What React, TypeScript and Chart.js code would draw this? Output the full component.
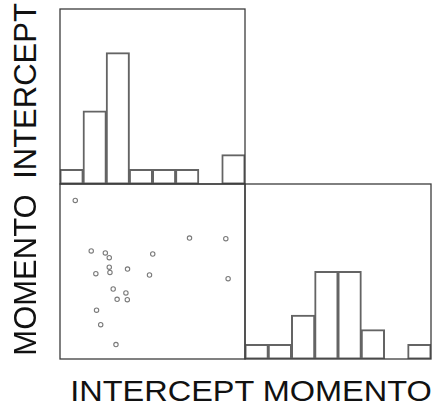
import React, { useEffect, useRef } from "react";
import { Chart, registerables } from "chart.js";

Chart.register(...registerables);

// ---- data ----
const varNames = ["INTERCEPT", "MOMENTO"];
const binLabels = ["b1", "b2", "b3", "b4", "b5", "b6", "b7", "b8"];
const interceptCounts = [1, 5, 9, 1, 1, 1, 0, 2];
const momentoCounts = [1, 1, 3, 6, 6, 2, 0, 1];
const interceptValues = [0.66, 5.6, 7.17, 1.35, 1.96, 2.13, 4.01, 2.13, 2.16, 2.92, 1.55, 3.87, 7.27, 2.3, 2.85, 2.47, 2.91, 1.58, 1.76, 2.42];
const momentoValues = [7.25, 5.53, 5.5, 4.94, 4.85, 4.63, 4.8, 4.2, 3.96, 4.11, 3.9, 3.84, 3.67, 3.2, 3.02, 2.73, 2.71, 2.23, 1.57, 0.66];
const axisRange = [0, 8];
const countRange = [0, 12];

const FRAME = "#3c3c3c";
const BAR_LINE = "#646464";
const POINT = "#7a7a7a";
const FONT = "'Liberation Sans', Arial, Helvetica, sans-serif";

const framePlugin = {
  id: "frame",
  afterDraw(chart: any) {
    const { ctx, chartArea: a } = chart;
    ctx.save();
    ctx.strokeStyle = FRAME;
    ctx.lineWidth = 1.3;
    ctx.strokeRect(a.left, a.top, a.right - a.left, a.bottom - a.top);
    ctx.restore();
  },
};

const PAD = 3;

function Panel({ left, top, width, height, makeConfig }: any) {
  const ref = useRef<HTMLCanvasElement | null>(null);
  useEffect(() => {
    if (!ref.current) return;
    const chart = new Chart(ref.current, makeConfig());
    return () => chart.destroy();
  }, []);
  return (
    <div
      style={{
        position: "absolute",
        left: left - PAD,
        top: top - PAD,
        width: width + 2 * PAD,
        height: height + 2 * PAD,
      }}
    >
      <canvas ref={ref} />
    </div>
  );
}

const baseOptions = {
  animation: false as const,
  responsive: true,
  maintainAspectRatio: false,
  layout: { padding: PAD, autoPadding: false },
  plugins: { legend: { display: false }, tooltip: { enabled: false } },
  events: [] as any[],
};

function histConfig(counts: number[]) {
  return {
    type: "bar" as const,
    data: {
      labels: binLabels,
      datasets: [
        {
          data: counts,
          backgroundColor: "rgba(255,255,255,0)",
          borderColor: BAR_LINE,
          borderWidth: 1,
          borderSkipped: false,
          inflateAmount: 0.5,
          barPercentage: 1,
          categoryPercentage: 1,
        },
      ],
    },
    options: {
      ...baseOptions,
      scales: {
        x: { display: false },
        y: { display: false, min: countRange[0], max: countRange[1] },
      },
    },
    plugins: [framePlugin],
  };
}

function scatterConfig() {
  return {
    type: "scatter" as const,
    data: {
      datasets: [
        {
          data: interceptValues.map((x, i) => ({ x, y: momentoValues[i] })),
          pointStyle: "circle",
          pointRadius: 2.2,
          borderColor: POINT,
          backgroundColor: "rgba(255,255,255,0)",
          borderWidth: 1.1,
        },
      ],
    },
    options: {
      ...baseOptions,
      scales: {
        x: { type: "linear" as const, display: false, min: axisRange[0], max: axisRange[1] },
        y: { type: "linear" as const, display: false, min: axisRange[0], max: axisRange[1] },
      },
    },
    plugins: [framePlugin],
  };
}

export default function App() {
  const colL = 60, colM = 245, colR = 431;
  const rowT = 9, rowM = 184, rowB = 359;
  const vLabel = (text: string, cx: number, cy: number) => (
    <div
      style={{
        position: "absolute",
        left: cx,
        top: cy,
        transform: "translate(-50%, -50%) rotate(-90deg)",
        fontFamily: FONT,
        fontSize: 31,
        lineHeight: 1,
        whiteSpace: "nowrap",
        color: "#111",
      }}
    >
      {text}
    </div>
  );
  return (
    <div
      style={{
        position: "absolute",
        left: 0,
        top: 0,
        width: 437,
        height: 405,
        background: "#fff",
        overflow: "hidden",
      }}
    >
      <Panel left={colL} top={rowT} width={colM - colL} height={rowM - rowT} makeConfig={() => histConfig(interceptCounts)} />
      <Panel left={colL} top={rowM} width={colM - colL} height={rowB - rowM} makeConfig={scatterConfig} />
      <Panel left={colM} top={rowM} width={colR - colM} height={rowB - rowM} makeConfig={() => histConfig(momentoCounts)} />
      {vLabel(varNames[0], 25, 91)}
      {vLabel(varNames[1], 25, 275)}
      <div
        style={{
          position: "absolute",
          left: 250.5,
          top: 377,
          transform: "translateX(-50%) scaleX(1.12)",
          fontFamily: FONT,
          fontSize: 29,
          lineHeight: 1,
          whiteSpace: "nowrap",
          color: "#111",
        }}
      >
        {varNames[0] + " " + varNames[1]}
      </div>
    </div>
  );
}
